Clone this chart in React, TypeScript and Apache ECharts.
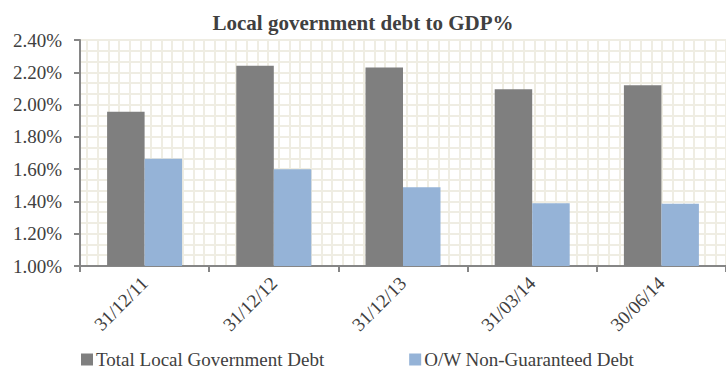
import React, { useEffect, useRef } from "react";
import * as echarts from "echarts";

const categories = ["31/12/11", "31/12/12", "31/12/13", "31/03/14", "30/06/14"];
const totalDebt = [1.955, 2.24, 2.23, 2.095, 2.12];
const nonGuaranteed = [1.665, 1.6, 1.488, 1.388, 1.385];
const seriesNames = ["Total Local Government Debt", "O/W Non-Guaranteed Debt"];
const titleText = "Local government debt to GDP%";

const FONT = "'Liberation Serif', 'Times New Roman', serif";
const TXT = "#404040";
const PAT = "#EFEDE3";

export default function App() {
  const ref = useRef<HTMLDivElement>(null);
  useEffect(() => {
    document.body.style.margin = "0";
    const chart = echarts.init(ref.current!, undefined, { renderer: "svg" });
    chart.setOption({
      animation: false,
      backgroundColor: "#ffffff",
      title: {
        text: titleText,
        left: "center",
        top: 7,
        textStyle: { fontFamily: FONT, fontSize: 21, fontWeight: "bold", color: TXT },
      },
      legend: {
        left: 76,
        top: 345,
        itemWidth: 12,
        itemHeight: 12,
        itemGap: 85,
        icon: "rect",
        textStyle: { fontFamily: FONT, fontSize: 19, color: TXT, padding: [0, 0, 0, -2] },
        data: seriesNames,
      },
      grid: [
        { left: 80, top: 40, right: -11, bottom: 100 },
        { left: 87, top: 40, right: -11, bottom: 100 },
      ],
      xAxis: [
        {
          type: "category",
          gridIndex: 0,
          data: categories,
          axisLine: { lineStyle: { color: "#868686", width: 2 } },
          axisTick: { show: true, length: 6, lineStyle: { color: "#868686", width: 2 } },
          axisLabel: {
            interval: 0,
            rotate: 45,
            margin: 14,
            fontFamily: FONT,
            fontSize: 19,
            color: TXT,
          },
          splitLine: { show: false },
        },
        {
          type: "value",
          gridIndex: 1,
          min: 0,
          max: 60,
          interval: 1,
          axisLine: { show: false },
          axisTick: { show: false },
          axisLabel: { show: false },
          splitLine: { show: true, lineStyle: { color: PAT, width: 2 } },
        },
      ],
      yAxis: [
        {
          type: "value",
          gridIndex: 0,
          min: 1.0,
          max: 2.4,
          interval: 0.2,
          axisLine: { show: true, lineStyle: { color: "#868686", width: 2 } },
          axisTick: { show: true, length: 6, lineStyle: { color: "#868686", width: 2 } },
          axisLabel: {
            margin: 18,
            fontFamily: FONT,
            fontSize: 19,
            color: TXT,
            formatter: (v: number) => v.toFixed(2) + "%",
          },
          splitLine: { show: true, lineStyle: { color: PAT, width: 2 } },
          minorTick: { show: false, splitNumber: 3 },
          minorSplitLine: { show: true, lineStyle: { color: PAT, width: 2 } },
        },
        {
          type: "value",
          gridIndex: 1,
          min: 0,
          max: 1,
          show: false,
          splitLine: { show: false },
        },
      ],
      series: [
        {
          name: seriesNames[0],
          type: "bar",
          xAxisIndex: 0,
          yAxisIndex: 0,
          data: totalDebt,
          barWidth: 37.5,
          barGap: "0%",
          itemStyle: { color: "#7F7F7F" },
          z: 5,
        },
        {
          name: seriesNames[1],
          type: "bar",
          xAxisIndex: 0,
          yAxisIndex: 0,
          data: nonGuaranteed,
          barWidth: 37.5,
          barGap: "0%",
          itemStyle: { color: "#95B3D7" },
          z: 5,
        },
      ],
    });
    return () => chart.dispose();
  }, []);
  return <div ref={ref} style={{ width: 726, height: 366 }} />;
}
